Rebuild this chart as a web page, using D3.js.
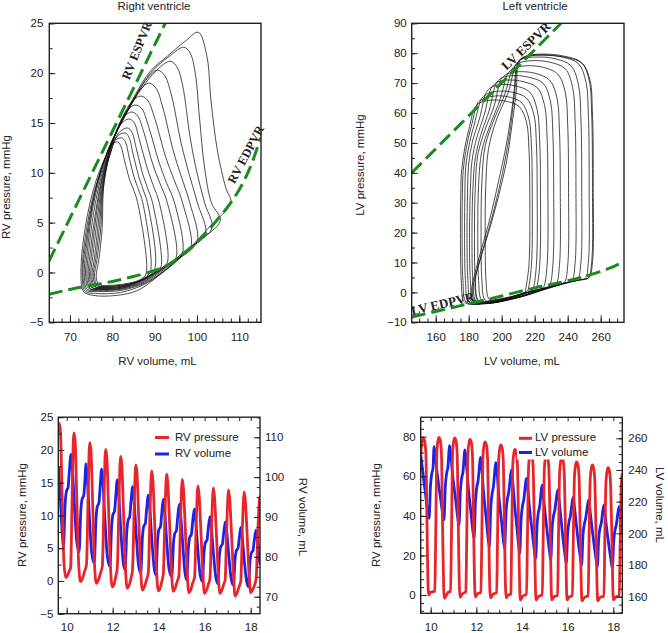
<!DOCTYPE html>
<html><head><meta charset="utf-8">
<script src="https://cdn.jsdelivr.net/npm/d3@7"></script>
<style>
body{margin:0;background:#fff}
svg{display:block}
text{font-family:"Liberation Sans",Arial,Helvetica,sans-serif;fill:#222}
</style>
</head><body>
<svg id="c" width="668" height="633"></svg>
<script>
// ---------------- DATA ----------------
// RV pressure-volume loops [volume mL, pressure mmHg]
const rvLoops = [
 [[108,7],[106.8,8.5],[104.8,12.3],[103.3,17.3],[102.3,21.8],[100.3,24.1],[97.5,23.3],[93,21.7],[89,20.2],[85.5,17.9],[82,15],[79.2,12.4],[76,9],[73.6,4.5],[72.6,0],[73.2,-1.9],[75.5,-2.3],[81,-2.3],[86,-1.8],[91,-0.3],[97,1.9],[103,4.6]],
 [[105.5,5.2],[103.4,7],[101.8,10.5],[100.6,15.5],[99.6,20],[98.4,22],[96.9,22.6],[93.5,21.7],[89,20],[85,17.3],[81.5,14.6],[78.8,12],[75.8,8.2],[73.6,3.5],[72.9,-0.5],[73.6,-1.9],[76,-2.1],[82,-2],[88,-1.1],[94,0.7],[100,3]],
 [[103.5,4.4],[101.8,7],[100,10],[98.4,13.5],[96.6,18.8],[95.3,20.6],[93.7,21.2],[90.5,20.3],[86.5,18.2],[82.5,15.3],[79,12.3],[76,8.3],[73.9,3.5],[73.1,-0.4],[73.9,-1.8],[76.5,-1.9],[82,-1.8],[88,-1],[93.5,0.6],[99,2.7]],
 [[102,3.8],[100.1,7],[98.2,9.8],[96.3,12.9],[93.9,17.9],[92.3,19.8],[90.6,20.3],[87.6,19.1],[84,16.5],[80.5,13.7],[78.6,11.8],[75.8,7.8],[74.1,3.3],[73.4,-0.4],[74.1,-1.7],[76.8,-1.8],[82,-1.7],[87.5,-1],[92.5,0.4],[97.5,2.3]],
 [[100,3],[98.3,7],[96.4,9.5],[94.4,12.2],[91.9,16.6],[90.3,18.5],[88.6,19],[85.8,17.9],[82.5,15.3],[79.5,12.7],[77.5,10.2],[75.4,6.5],[74.2,2.5],[73.7,-0.4],[74.4,-1.6],[77,-1.7],[82,-1.6],[87,-1],[91.5,0.2],[96,1.7]],
 [[98.5,2.4],[96.6,7],[94.6,9.3],[92.6,11.6],[90,15.5],[88.3,17.3],[86.6,17.7],[84,16.8],[81.5,14.6],[79.2,12.2],[77.3,9.5],[75.6,6],[74.5,2.3],[74,-0.4],[74.7,-1.6],[77.2,-1.7],[82,-1.6],[87,-0.9],[91,0.1],[95,1.3]],
 [[96.5,1.8],[94.7,7],[92.8,9],[91,11.1],[88.6,14.6],[87,16.4],[85.4,16.8],[83,16],[80.8,13.9],[79,11.8],[77.3,9],[75.9,5.6],[74.8,2],[74.3,-0.4],[75,-1.5],[77.5,-1.6],[82,-1.5],[86.5,-0.9],[90.5,0],[93.8,1]],
 [[95,1.4],[93,7],[91.3,8.9],[89.6,10.8],[87.5,14],[86,15.7],[84.6,16.1],[82.3,15.4],[80.4,13.5],[78.8,11.4],[77.3,8.7],[76.1,5.4],[75.1,1.8],[74.6,-0.4],[75.3,-1.5],[77.8,-1.6],[82,-1.5],[86,-1],[89.5,-0.2],[92.5,0.7]],
 [[93,1],[91.1,7],[89.7,8.7],[88.3,10.4],[86.4,13.3],[85.2,15],[84,15.4],[81.8,14.8],[80,13],[78.6,11],[77.4,8.4],[76.4,5.2],[75.4,1.6],[74.9,-0.4],[75.6,-1.4],[78,-1.5],[82,-1.4],[85.5,-1],[89,-0.3],[91.5,0.4]],
 [[91.5,0.6],[89.5,7],[88.3,8.5],[87.1,10],[85.7,12.4],[84.6,14.1],[83.6,14.5],[81.5,14],[79.8,12.3],[78.5,10.5],[77.5,8.2],[76.7,5],[75.8,1.5],[75.2,-0.4],[75.9,-1.4],[78.2,-1.5],[82,-1.4],[85.5,-1],[88.5,-0.4],[90.5,0.2]],
 [[90,0.3],[88.3,7],[87.2,8.4],[86.2,9.7],[84.9,11.9],[83.9,13.6],[83,14],[81,13.6],[79.6,12],[78.4,10.2],[77.6,8],[77,4.8],[76.1,1.4],[75.5,-0.4],[76.2,-1.3],[78.5,-1.4],[82,-1.3],[85.5,-1],[88,-0.5]],
 [[89,0.1],[87.2,7],[86.2,8.3],[85.2,9.5],[84,11.5],[83.1,13.1],[82.2,13.5],[80.5,13.2],[79.3,11.7],[78.4,9.9],[77.7,7.8],[77.3,4.6],[76.4,1.3],[75.8,-0.4],[76.5,-1.3],[78.7,-1.4],[82,-1.3],[85.5,-1],[87.7,-0.5]],
 [[88,-0.1],[86,7],[85.1,8.2],[84.1,9.3],[82.9,11.2],[82,12.7],[81.2,13.1],[79.8,12.8],[78.9,11.3],[78.2,9.6],[77.8,7.6],[77.6,4.4],[76.8,1.2],[76.2,-0.4],[76.8,-1.2],[79,-1.3],[82,-1.2],[85.5,-0.9],[87,-0.6]]
];
const rvESPVR = [[65,1.1],[92.5,25]];
const rvEDPVR = [[65,-2.2],[70,-1.7],[75,-1.3],[80,-0.9],[85,-0.4],[90,0.2],[93,0.7],[96,1.6],[99,2.6],[102,3.9],[105,5.4],[108,7],[111,9.1],[113,11],[115,13.5]];

// LV pressure-volume loops [volume mL, pressure mmHg]
const lvLoops = [
 [[253,5],[255,10],[255.5,35],[255,60],[253.5,71],[249,76.5],[240,78.5],[225,79.3],[215,78.8],[211,77.5],[209.5,75],[209,68.5],[206,55],[203,44],[198,32],[192,20],[188,13],[184.5,6],[184,0],[186,-3],[195,-2.5],[205,-1.5],[215,0],[228,1.8],[240,3.4],[248,4.3]],
 [[252.5,4.8],[254.5,10],[255,35],[254.5,60],[253,71],[248.5,76.8],[238,79],[224,79.7],[214.5,79],[210.5,77.5],[209,74.5],[208,68],[204.5,52],[200.5,40],[195.5,28],[190,17],[186,9],[183,3],[182.5,-1.5],[185,-3.3],[195,-2.7],[205,-1.6],[215,-0.1],[228,1.7],[240,3.3],[247.5,4.2]],
 [[250.5,4.6],[252.5,10],[253,35],[252.5,60],[251,70.5],[246.5,76.5],[236,78.8],[223,79.5],[214,78.8],[210,77],[208.5,74],[207.5,67],[203,50],[198,37],[193,25],[188,15],[184.5,8],[182,2],[181.5,-2],[184,-3.5],[195,-2.8],[205,-1.7],[215,-0.2],[228,1.6],[238,3],[246,4]],
 [[246,4.4],[248,10],[248.5,35],[248,58],[246.5,69.5],[242,75.8],[232,78.2],[220,78.7],[212,78],[208.5,76.2],[207,73.5],[204,67],[197,58],[192,48],[190.3,35],[190,18],[190.5,4],[192,-2],[195,-3.3],[205,-2.4],[215,-1],[225,0.8],[235,2.5],[242,3.6]],
 [[242.5,3.9],[244.5,10],[245,35],[244.5,57],[243,68.5],[238.5,74.8],[229,77],[218,77.5],[210,76.6],[206.5,74.8],[205,72.5],[202,66.5],[195.5,58],[190,49],[188,37],[187.5,20],[188,4],[189.5,-2.2],[193,-3.5],[203,-2.6],[213,-1.3],[223,0.5],[232,2],[238.5,3.1]],
 [[238,3.4],[240,9],[240.5,35],[240,56],[238.5,67],[234,73],[225,75.3],[215,75.8],[207,74.9],[203.5,73],[202,70.5],[199,64.5],[193,56],[188,47.5],[186,36],[185.5,20],[186,4],[187.5,-2.3],[191,-3.6],[200,-2.9],[210,-1.6],[220,0.1],[228,1.5],[234,2.6]],
 [[233,2.8],[235,9],[235.5,35],[235,54],[233.5,65],[229,71],[220,73.3],[210,73.8],[203,73],[199.5,71.2],[198,68.5],[195.5,62.5],[190,54.5],[185.5,46],[184,35],[183.5,20],[184,4],[185.5,-2.4],[189,-3.7],[198,-3.1],[208,-1.9],[218,-0.3],[225,1],[230,2]],
 [[229,2.3],[231,9],[231.5,35],[231,53],[229.5,64],[225,70],[216,72],[206,72.5],[199.5,71.6],[196.5,69.7],[195,67],[192.5,61],[187.5,53],[184,45],[182.5,34],[182,20],[182.5,4],[184,-2.5],[187.5,-3.7],[197,-3.2],[207,-2],[216,-0.6],[222,0.6],[227,1.6]],
 [[225.5,1.9],[227.5,9],[228,35],[227.5,52],[226,62.5],[221.5,68.5],[212,70.6],[203,71],[197,70.2],[193.5,68.2],[192,65.5],[189.5,59.5],[185,52],[182,44],[181,34],[180.5,20],[181,4],[182.5,-2.6],[186,-3.8],[195,-3.3],[205,-2.2],[214,-0.8],[220,0.3],[224,1.2]],
 [[221,1.4],[223,9],[223.5,35],[223,51],[221.5,61],[217,67],[208,69.1],[200,69.5],[194,68.7],[190.5,66.7],[189,64],[186.5,58],[182.5,51],[180,43],[179.3,33],[179,20],[179.5,4],[181,-2.7],[184.5,-3.8],[193,-3.4],[203,-2.3],[211,-1],[216,0],[220,0.8]],
 [[219,1.2],[221,9],[221.5,35],[221,50],[219.5,59.5],[215,65],[206,67],[198,67.3],[192,66.6],[188,65],[186.5,63],[184,57.5],[180.5,50],[178.2,42],[177.7,33],[177.5,20],[178,4],[179.5,-2.8],[183,-3.9],[192,-3.4],[202,-2.4],[210,-1.1],[215,-0.1],[218,0.6]],
 [[216,0.9],[218,9],[218.5,35],[218,49],[216.5,58],[212,63.5],[204,65.4],[196,65.7],[190,65],[186,63.8],[184.5,62],[182,56.5],[178.8,49],[176.7,41],[176.2,33],[176,20],[176.5,4],[178,-2.9],[181.5,-3.9],[190,-3.5],[200,-2.5],[208,-1.3],[213,-0.3],[215.5,0.4]],
 [[214.5,0.7],[216.5,9],[217,35],[216.5,48],[215,57],[210.5,62.2],[202,64],[194,64.3],[188,63.7],[184.5,62.5],[183,61],[180.5,55.5],[177.5,48],[175.6,40],[175.2,33],[175,20],[175.5,4],[177,-3],[180.5,-4],[189,-3.6],[199,-2.6],[207,-1.4],[212,-0.4],[214.5,0.3]]
];
const lvESPVR = [[145.5,40],[236,90]];
const lvEDPVR = [[145.5,-8.2],[160,-6.4],[180,-3.8],[200,-1.2],[220,1.5],[240,3.9],[252,5.6],[265,8],[274,10.3]];

// RV time series [time s, value]
const rvPressure = [
 [9.64,23.6],[9.68,24.1],[9.73,22.6],[9.80,13.3],[9.88,2.9],[9.96,0.5],[10.04,0.9],[10.12,1.6],[10.17,2.0],
 [10.24,13.6],[10.29,21.6],[10.32,22.6],[10.37,21.1],[10.44,12.4],[10.52,2.7],[10.60,-0.1],[10.68,0.3],[10.78,1.5],[10.86,2.5],
 [10.93,12.7],[10.98,20.1],[11.01,21.1],[11.06,19.6],[11.13,11.6],[11.21,2.5],[11.29,-0.35],[11.37,0.05],[11.47,1.2],[11.55,2.3],
 [11.62,12.1],[11.67,19.1],[11.70,20.1],[11.75,18.6],[11.82,11.1],[11.90,2.4],[11.98,-0.9],[12.06,-0.5],[12.14,0.8],[12.20,2.0],
 [12.27,11.4],[12.32,18],[12.35,19],[12.40,17.5],[12.47,10.5],[12.55,2.3],[12.63,-1.1],[12.71,-0.7],[12.80,0.5],[12.86,1.6],
 [12.93,10.6],[12.98,16.7],[13.01,17.7],[13.06,16.2],[13.13,9.7],[13.21,2.1],[13.29,-1.4],[13.37,-1.0],[13.47,0.2],[13.55,1.3],
 [13.62,10.1],[13.67,15.8],[13.70,16.8],[13.75,15.3],[13.82,9.2],[13.90,2],[13.98,-1.5],[14.06,-1.1],[14.14,0],[14.20,1.0],
 [14.27,9.8],[14.32,15.3],[14.35,16.3],[14.40,14.8],[14.47,9],[14.55,2],[14.63,-1.6],[14.71,-1.2],[14.80,-0.1],[14.88,0.8],
 [14.95,9.3],[15.00,14.5],[15.03,15.5],[15.08,14],[15.15,8.5],[15.23,1.9],[15.31,-1.8],[15.39,-1.4],[15.48,-0.3],[15.56,0.6],
 [15.63,8.7],[15.68,13.5],[15.71,14.5],[15.76,13],[15.83,8],[15.91,1.7],[15.99,-1.9],[16.07,-1.5],[16.16,-0.5],[16.23,0.4],
 [16.30,8.5],[16.35,13.2],[16.38,14.2],[16.43,12.7],[16.50,7.8],[16.58,1.7],[16.66,-1.9],[16.74,-1.5],[16.82,-0.6],[16.89,0.2],
 [16.96,8.3],[17.01,12.9],[17.04,13.9],[17.09,12.4],[17.16,7.6],[17.24,1.7],[17.32,-2.3],[17.40,-1.9],[17.49,-0.9],[17.57,0],
 [17.64,8.2],[17.69,12.6],[17.72,13.6],[17.77,12.1],[17.84,7.5],[17.92,1.6],[18.00,-1.8],[18.08,-1.4],[18.18,-0.5],[18.24,0.5],
 [18.31,7.5],[18.38,12.4],[18.41,13]
];
const rvVolume = [
 [9.64,102.6],[9.72,95],[9.80,86.5],[9.86,82.6],[9.93,93.0],[9.99,96.5],[10.06,97.4],[10.11,101.1],[10.19,105.7],
 [10.24,102.8],[10.34,92.3],[10.44,83.7],[10.54,81.3],[10.61,91.2],[10.67,94.5],[10.74,95.4],[10.79,98.9],[10.84,103.3],
 [10.89,100.3],[10.99,89.6],[11.09,80.9],[11.20,78.4],[11.27,89.0],[11.33,92.6],[11.40,93.5],[11.45,97.3],[11.52,102],
 [11.57,99.1],[11.67,88.5],[11.77,80],[11.88,77.5],[11.95,87.3],[12.01,90.6],[12.08,91.5],[12.13,94.9],[12.20,99.3],
 [12.25,96.6],[12.35,86.9],[12.45,79],[12.54,76.7],[12.61,86.1],[12.67,89.2],[12.74,90.1],[12.79,93.4],[12.87,97.6],
 [12.92,95.0],[13.02,85.7],[13.12,78.1],[13.22,75.9],[13.29,84.7],[13.35,87.7],[13.42,88.4],[13.47,91.6],[13.55,95.5],
 [13.60,93.1],[13.70,84.4],[13.80,77.4],[13.88,75.4],[13.95,84.0],[14.01,86.9],[14.08,87.6],[14.13,90.7],[14.20,94.5],
 [14.25,92.2],[14.35,83.8],[14.45,77.0],[14.57,75.0],[14.64,83.2],[14.70,85.9],[14.77,86.6],[14.82,89.6],[14.90,93.2],
 [14.95,90.9],[15.05,82.8],[15.14,76.1],[15.22,74.2],[15.29,82.2],[15.35,84.9],[15.42,85.6],[15.47,88.4],[15.55,92],
 [15.60,89.8],[15.70,82],[15.80,75.6],[15.90,73.8],[15.97,81.1],[16.03,83.6],[16.10,84.2],[16.15,86.8],[16.23,90.1],
 [16.28,88.1],[16.38,80.9],[16.48,75],[16.57,73.3],[16.64,80.3],[16.70,82.6],[16.77,83.2],[16.82,85.7],[16.90,88.8],
 [16.95,86.9],[17.05,80.1],[17.15,74.5],[17.25,72.9],[17.32,79.4],[17.38,81.6],[17.45,82.2],[17.50,84.5],[17.57,87.4],
 [17.62,85.6],[17.72,79.2],[17.82,74],[17.90,72.5],[17.97,78.9],[18.03,81],[18.10,81.6],[18.15,83.9],[18.23,86.7],
 [18.28,85],[18.36,80],[18.41,78]
];

// LV time series [time s, value]
const lvPressure = [
 [9.56,70],[9.60,76],[9.64,78.4],[9.68,79.1],[9.74,77.6],[9.79,71.1],[9.84,35],[9.89,3],[9.92,0],[10.00,1.5],[10.10,1.7],
 [10.18,2],[10.22,30],[10.27,72.6],[10.32,78.1],[10.36,79.6],[10.42,78.1],[10.47,71.6],[10.52,35],[10.57,3],[10.60,-1.7],[10.68,-0.2],[10.78,1.5],
 [10.87,1.8],[10.91,30],[10.96,72.4],[11.01,77.9],[11.05,79.4],[11.11,77.9],[11.16,71.4],[11.21,35],[11.26,3],[11.29,-1.2],[11.37,0.3],[11.47,1.2],
 [11.54,1.5],[11.58,30],[11.63,71.6],[11.68,77.1],[11.72,78.6],[11.78,77.1],[11.83,70.6],[11.88,35],[11.93,3],[11.96,-1],[12.04,0.5],[12.14,1],
 [12.20,1.2],[12.24,30],[12.29,70.4],[12.34,75.9],[12.38,77.4],[12.44,75.9],[12.49,69.4],[12.54,35],[12.59,3],[12.62,-1.5],[12.70,0],[12.80,0.8],
 [12.89,1],[12.93,30],[12.98,68.8],[13.03,74.3],[13.07,75.8],[13.13,74.3],[13.18,67.8],[13.23,35],[13.28,3],[13.31,-1.5],[13.39,0],[13.49,0.3],
 [13.51,0.5],[13.55,30],[13.60,66.6],[13.65,72.1],[13.69,73.6],[13.75,72.1],[13.80,65.6],[13.85,35],[13.90,3],[13.93,-2.5],[14.01,-1],[14.11,0],
 [14.20,0.2],[14.24,30],[14.29,65],[14.34,70.5],[14.38,72],[14.44,70.5],[14.49,64],[14.54,35],[14.59,3],[14.62,-2.5],[14.70,-1],[14.80,-0.3],
 [14.89,0],[14.93,30],[14.98,64],[15.03,69.5],[15.07,71],[15.13,69.5],[15.18,63],[15.23,35],[15.28,3],[15.31,-2.5],[15.39,-1],[15.49,-0.5],
 [15.56,-0.3],[15.60,30],[15.65,62.5],[15.70,68],[15.74,69.5],[15.80,68],[15.85,61.5],[15.90,35],[15.95,3],[15.98,-2.5],[16.06,-1],[16.16,-0.6],
 [16.21,-0.5],[16.25,30],[16.30,60.3],[16.35,65.8],[16.39,67.3],[16.45,65.8],[16.50,59.3],[16.55,33],[16.60,3],[16.63,-3],[16.71,-1.5],[16.81,-0.8],
 [16.90,-0.5],[16.94,30],[16.99,58.7],[17.04,64.2],[17.08,65.7],[17.14,64.2],[17.19,57.7],[17.24,33],[17.29,3],[17.32,-3],[17.40,-1.5],[17.50,-0.8],
 [17.59,-0.7],[17.63,30],[17.68,57.3],[17.73,62.8],[17.77,64.3],[17.83,62.8],[17.88,56.3],[17.93,33],[17.98,3],[18.01,-2.5],[18.09,-1.2],[18.19,-0.7],
 [18.26,-0.5],[18.30,25],[18.35,55],[18.39,61.4]
];
const lvVolume = [
 [9.56,250],[9.66,238],[9.78,224],[9.88,212],[9.93,209.5],[9.99,230],[10.05,238],[10.10,241],[10.15,254.7],
 [10.20,249.1],[10.30,236.2],[10.43,222.2],[10.53,212.1],[10.58,208.4],[10.64,229.6],[10.70,238],[10.75,241.3],[10.83,255.4],
 [10.88,249.4],[10.97,235.4],[11.10,220.3],[11.19,209.3],[11.24,205.3],[11.30,226.6],[11.36,235.1],[11.41,238.4],[11.50,252.6],
 [11.55,245.9],[11.64,230.3],[11.76,213.5],[11.85,201.3],[11.90,196.8],[11.96,219.8],[12.02,229.1],[12.07,232.6],[12.19,248],
 [12.24,241.2],[12.32,225.4],[12.44,208.5],[12.52,196.1],[12.57,191.6],[12.63,215.5],[12.69,225],[12.74,228.7],[12.86,244.6],
 [12.91,238.1],[12.99,223],[13.11,206.7],[13.19,194.8],[13.24,190.5],[13.30,212.8],[13.36,221.7],[13.41,225.2],[13.55,240],
 [13.59,233.7],[13.67,219],[13.78,203.2],[13.86,191.6],[13.90,187.4],[13.96,208.7],[14.02,217.2],[14.07,220.5],[14.20,234.7],
 [14.25,228.6],[14.34,214.5],[14.46,199.4],[14.55,188.2],[14.60,184.2],[14.66,205],[14.72,213.4],[14.77,216.6],[14.89,230.5],
 [14.93,224.8],[15.02,211.6],[15.13,197.4],[15.22,187],[15.26,183.2],[15.32,203.1],[15.38,211],[15.43,214.1],[15.58,227.4],
 [15.62,221.8],[15.71,208.9],[15.81,195],[15.90,184.8],[15.94,181.1],[16.00,199.8],[16.06,207.3],[16.11,210.2],[16.25,222.7],
 [16.29,217.6],[16.38,205.6],[16.48,192.8],[16.57,183.4],[16.61,180],[16.67,198.5],[16.73,205.8],[16.78,208.7],[16.93,221],
 [16.97,216],[17.06,204.2],[17.17,191.5],[17.26,182.3],[17.30,178.9],[17.36,196.5],[17.42,203.5],[17.47,206.2],[17.59,217.9],
 [17.63,213.1],[17.72,201.9],[17.83,189.9],[17.92,181.1],[17.96,177.9],[18.02,195.4],[18.08,202.4],[18.13,205.1],[18.25,216.8],
 [18.30,212],[18.39,200]
];

// tick values
const rvPTicks = [-5,0,5,10,15,20,25];
const rvVTicksPV = [70,80,90,100,110];
const lvPTicksPV = [-10,0,10,20,30,40,50,60,70,80,90];
const lvVTicksPV = [160,180,200,220,240,260];
const timeTicks = [10,12,14,16,18];
const rvVolTicks = [70,80,90,100,110];
const lvPresTicks = [0,20,40,60,80];
const lvVolTicks = [160,180,200,220,240,260];

// ---------------- DRAWING ----------------
const svg = d3.select("#c");
const RED = "#e8252b", BLUE = "#1e22e6", GREEN = "#1b8a1f";
const FS = 11.5;

function range(a, b, s) { const r = []; for (let v = a; v <= b + 1e-9; v += s) r.push(+v.toFixed(4)); return r; }

function styleAxis(g) {
  g.select(".domain").remove();
  g.attr("font-family", null).attr("font-size", null);
  g.selectAll("line").attr("stroke", "#222").attr("stroke-width", 1);
  g.selectAll("text").style("font-size", FS + "px").attr("fill", "#222");
}

function addAxis(axisFn, scale, majors, minors, len, pad, tx, ty, fmt) {
  const gMin = svg.append("g").attr("transform", `translate(${tx},${ty})`)
    .call(axisFn(scale).tickValues(minors).tickSize(-len * 0.55).tickFormat(""));
  styleAxis(gMin);
  const gMaj = svg.append("g").attr("transform", `translate(${tx},${ty})`)
    .call(axisFn(scale).tickValues(majors).tickSize(-len).tickPadding(pad).tickFormat(fmt || d3.format("d")));
  styleAxis(gMaj);
  return gMaj;
}

function frame(x0, y0, x1, y1, id) {
  svg.append("clipPath").attr("id", id).append("rect").attr("x", x0).attr("y", y0).attr("width", x1 - x0).attr("height", y1 - y0);
}
function border(x0, y0, x1, y1) {
  svg.append("rect").attr("x", x0).attr("y", y0).attr("width", x1 - x0).attr("height", y1 - y0)
    .attr("fill", "none").attr("stroke", "#222").attr("stroke-width", 1.4);
}
function label(txt, x, y, rot, anchor, size, extra) {
  const t = svg.append("text").attr("x", 0).attr("y", 0)
    .attr("transform", `translate(${x},${y}) rotate(${rot || 0})`)
    .attr("text-anchor", anchor || "middle").attr("dominant-baseline", "middle")
    .style("font-size", (size || FS) + "px").text(txt);
  if (extra) extra(t);
  return t;
}

// ===== Panel A: RV PV loops =====
{
  const X0 = 49.3, X1 = 261, Y0 = 23.3, Y1 = 322.3;
  const x = d3.scaleLinear().domain([80, 110]).range([112.3, 239.3]);
  const y = d3.scaleLinear().domain([-5, 25]).range([Y1, Y0]);
  frame(X0, Y0, X1, Y1, "clipA");
  const g = svg.append("g").attr("clip-path", "url(#clipA)");
  const loopLine = d3.line().x(d => x(d[0])).y(d => y(d[1])).curve(d3.curveCatmullRomClosed.alpha(0.5));
  g.selectAll("path.loop").data(rvLoops).join("path").attr("class", "loop")
    .attr("d", loopLine).attr("fill", "none").attr("stroke", "#111").attr("stroke-width", 0.75);
  const ln = d3.line().x(d => x(d[0])).y(d => y(d[1])).curve(d3.curveMonotoneX);
  [rvESPVR, rvEDPVR].forEach(dat => g.append("path").attr("d", ln(dat)).attr("fill", "none")
    .attr("stroke", GREEN).attr("stroke-width", 3).attr("stroke-dasharray", "14,6"));
  addAxis(d3.axisLeft, y, rvPTicks, range(-5, 25, 2.5), 6, 6, X0, 0);
  addAxis(d3.axisBottom, x, rvVTicksPV, range(66, 114, 2), 7, 11, 0, Y1);
  border(X0, Y0, X1, Y1);
  label("Right ventricle", 154, 7);
  label("RV volume, mL", 157.5, 362);
  label("RV pressure, mmHg", 7, 187, -90);
  const serif = t => t.style("font-family", '"Liberation Serif","Times New Roman",serif').style("font-weight", "bold").attr("fill", "#111");
  label("RV ESPVR", 138, 51, -68, "middle", 12.5, serif);
  label("RV EDPVR", 247, 155, -62, "middle", 12.5, serif);
}

// ===== Panel B: LV PV loops =====
{
  const X0 = 411.7, X1 = 624, Y0 = 23.3, Y1 = 322.3;
  const x = d3.scaleLinear().domain([160, 260]).range([435.7, 600.7]);
  const y = d3.scaleLinear().domain([-10, 90]).range([Y1, Y0]);
  frame(X0, Y0, X1, Y1, "clipB");
  const g = svg.append("g").attr("clip-path", "url(#clipB)");
  const loopLine = d3.line().x(d => x(d[0])).y(d => y(d[1])).curve(d3.curveCatmullRomClosed.alpha(0.5));
  g.selectAll("path.loop").data(lvLoops).join("path").attr("class", "loop")
    .attr("d", loopLine).attr("fill", "none").attr("stroke", "#111").attr("stroke-width", 0.75);
  const ln = d3.line().x(d => x(d[0])).y(d => y(d[1])).curve(d3.curveMonotoneX);
  [lvESPVR, lvEDPVR].forEach(dat => g.append("path").attr("d", ln(dat)).attr("fill", "none")
    .attr("stroke", GREEN).attr("stroke-width", 3).attr("stroke-dasharray", "14,6"));
  addAxis(d3.axisLeft, y, lvPTicksPV, range(-10, 90, 5), 6, 5, X0, 0);
  addAxis(d3.axisBottom, x, lvVTicksPV, range(150, 270, 5), 7, 11, 0, Y1);
  border(X0, Y0, X1, Y1);
  label("Left ventricle", 535, 7);
  label("LV volume, mL", 522, 362);
  label("LV pressure, mmHg", 361, 165, -90);
  const serif = t => t.style("font-family", '"Liberation Serif","Times New Roman",serif').style("font-weight", "bold").attr("fill", "#111");
  label("LV ESPVR", 527, 47, -44, "middle", 13, serif);
  label("LV EDPVR", 443, 305, -13, "middle", 13, serif);
}

// ===== Panel C: RV time series =====
{
  const X0 = 58.3, X1 = 260, Y0 = 417.2, Y1 = 613.7;
  const x = d3.scaleLinear().domain([10, 18]).range([66.7, 250.7]);
  const yL = d3.scaleLinear().domain([-5, 25]).range([613.7, 417.2]);
  const yR = d3.scaleLinear().domain([70, 110]).range([596.7, 437.3]);
  frame(X0, Y0, X1, Y1, "clipC");
  const g = svg.append("g").attr("clip-path", "url(#clipC)");
  const lv = d3.line().x(d => x(d[0])).y(d => yR(d[1])).curve(d3.curveMonotoneX);
  const lp = d3.line().x(d => x(d[0])).y(d => yL(d[1])).curve(d3.curveMonotoneX);
  g.append("path").attr("d", lv(rvVolume)).attr("fill", "none").attr("stroke", BLUE).attr("stroke-width", 2.8).attr("stroke-linejoin", "round");
  g.append("path").attr("d", lp(rvPressure)).attr("fill", "none").attr("stroke", RED).attr("stroke-width", 2.8).attr("stroke-linejoin", "round");
  addAxis(d3.axisLeft, yL, rvPTicks, range(-5, 25, 2.5), 6, 5, X0, 0);
  addAxis(d3.axisRight, yR, rvVolTicks, range(67.5, 115, 2.5), 6, 5, X1, 0);
  addAxis(d3.axisBottom, x, timeTicks, range(10, 18, 0.5), 6, 9.5, 0, Y1);
  addAxis(d3.axisTop, x, [], range(10, 18, 0.5), 7, 0, 0, Y0);
  border(X0, Y0, X1, Y1);
  label("RV pressure, mmHg", 23, 515, -90);
  label("RV volume, mL", 302, 517, 90);
  // legend
  svg.append("line").attr("x1", 155).attr("x2", 169).attr("y1", 437.5).attr("y2", 437.5).attr("stroke", RED).attr("stroke-width", 3);
  svg.append("line").attr("x1", 155).attr("x2", 169).attr("y1", 454).attr("y2", 454).attr("stroke", BLUE).attr("stroke-width", 3);
  label("RV pressure", 175, 437.5, 0, "start");
  label("RV volume", 175, 454, 0, "start");
}

// ===== Panel D: LV time series =====
{
  const X0 = 420.7, X1 = 622.3, Y0 = 417.3, Y1 = 613.3;
  const x = d3.scaleLinear().domain([10, 18]).range([430.7, 613.3]);
  const yL = d3.scaleLinear().domain([0, 80]).range([595, 436.7]);
  const yR = d3.scaleLinear().domain([160, 260]).range([596.7, 438.3]);
  frame(X0, Y0, X1, Y1, "clipD");
  const g = svg.append("g").attr("clip-path", "url(#clipD)");
  const lv = d3.line().x(d => x(d[0])).y(d => yR(d[1])).curve(d3.curveMonotoneX);
  const lp = d3.line().x(d => x(d[0])).y(d => yL(d[1])).curve(d3.curveMonotoneX);
  g.append("path").attr("d", lv(lvVolume)).attr("fill", "none").attr("stroke", BLUE).attr("stroke-width", 2.8).attr("stroke-linejoin", "round");
  g.append("path").attr("d", lp(lvPressure)).attr("fill", "none").attr("stroke", RED).attr("stroke-width", 2.8).attr("stroke-linejoin", "round");
  // legend box (white background)
  svg.append("rect").attr("x", 517).attr("y", 425).attr("width", 96).attr("height", 34.5).attr("fill", "#fff");
  addAxis(d3.axisLeft, yL, lvPresTicks, range(-8, 88, 4), 6, 5, X0, 0);
  addAxis(d3.axisRight, yR, lvVolTicks, range(150, 270, 5), 6, 6, X1, 0);
  addAxis(d3.axisBottom, x, timeTicks, range(9.5, 18.5, 0.5).filter(v => v > 9.56 && v < 18.39), 6, 9.5, 0, Y1);
  addAxis(d3.axisTop, x, [], range(9.5, 18.5, 0.5).filter(v => v > 9.56 && v < 18.39), 7, 0, 0, Y0);
  border(X0, Y0, X1, Y1);
  label("RV pressure, mmHg", 377, 515, -90);
  label("LV volume, mL", 659, 505, 90);
  svg.append("line").attr("x1", 519).attr("x2", 532).attr("y1", 438.3).attr("y2", 438.3).attr("stroke", RED).attr("stroke-width", 3);
  svg.append("line").attr("x1", 519).attr("x2", 532).attr("y1", 452.5).attr("y2", 452.5).attr("stroke", BLUE).attr("stroke-width", 3);
  label("LV pressure", 535, 438.3, 0, "start");
  label("LV volume", 535, 452.5, 0, "start");
}
</script>
</body></html>
